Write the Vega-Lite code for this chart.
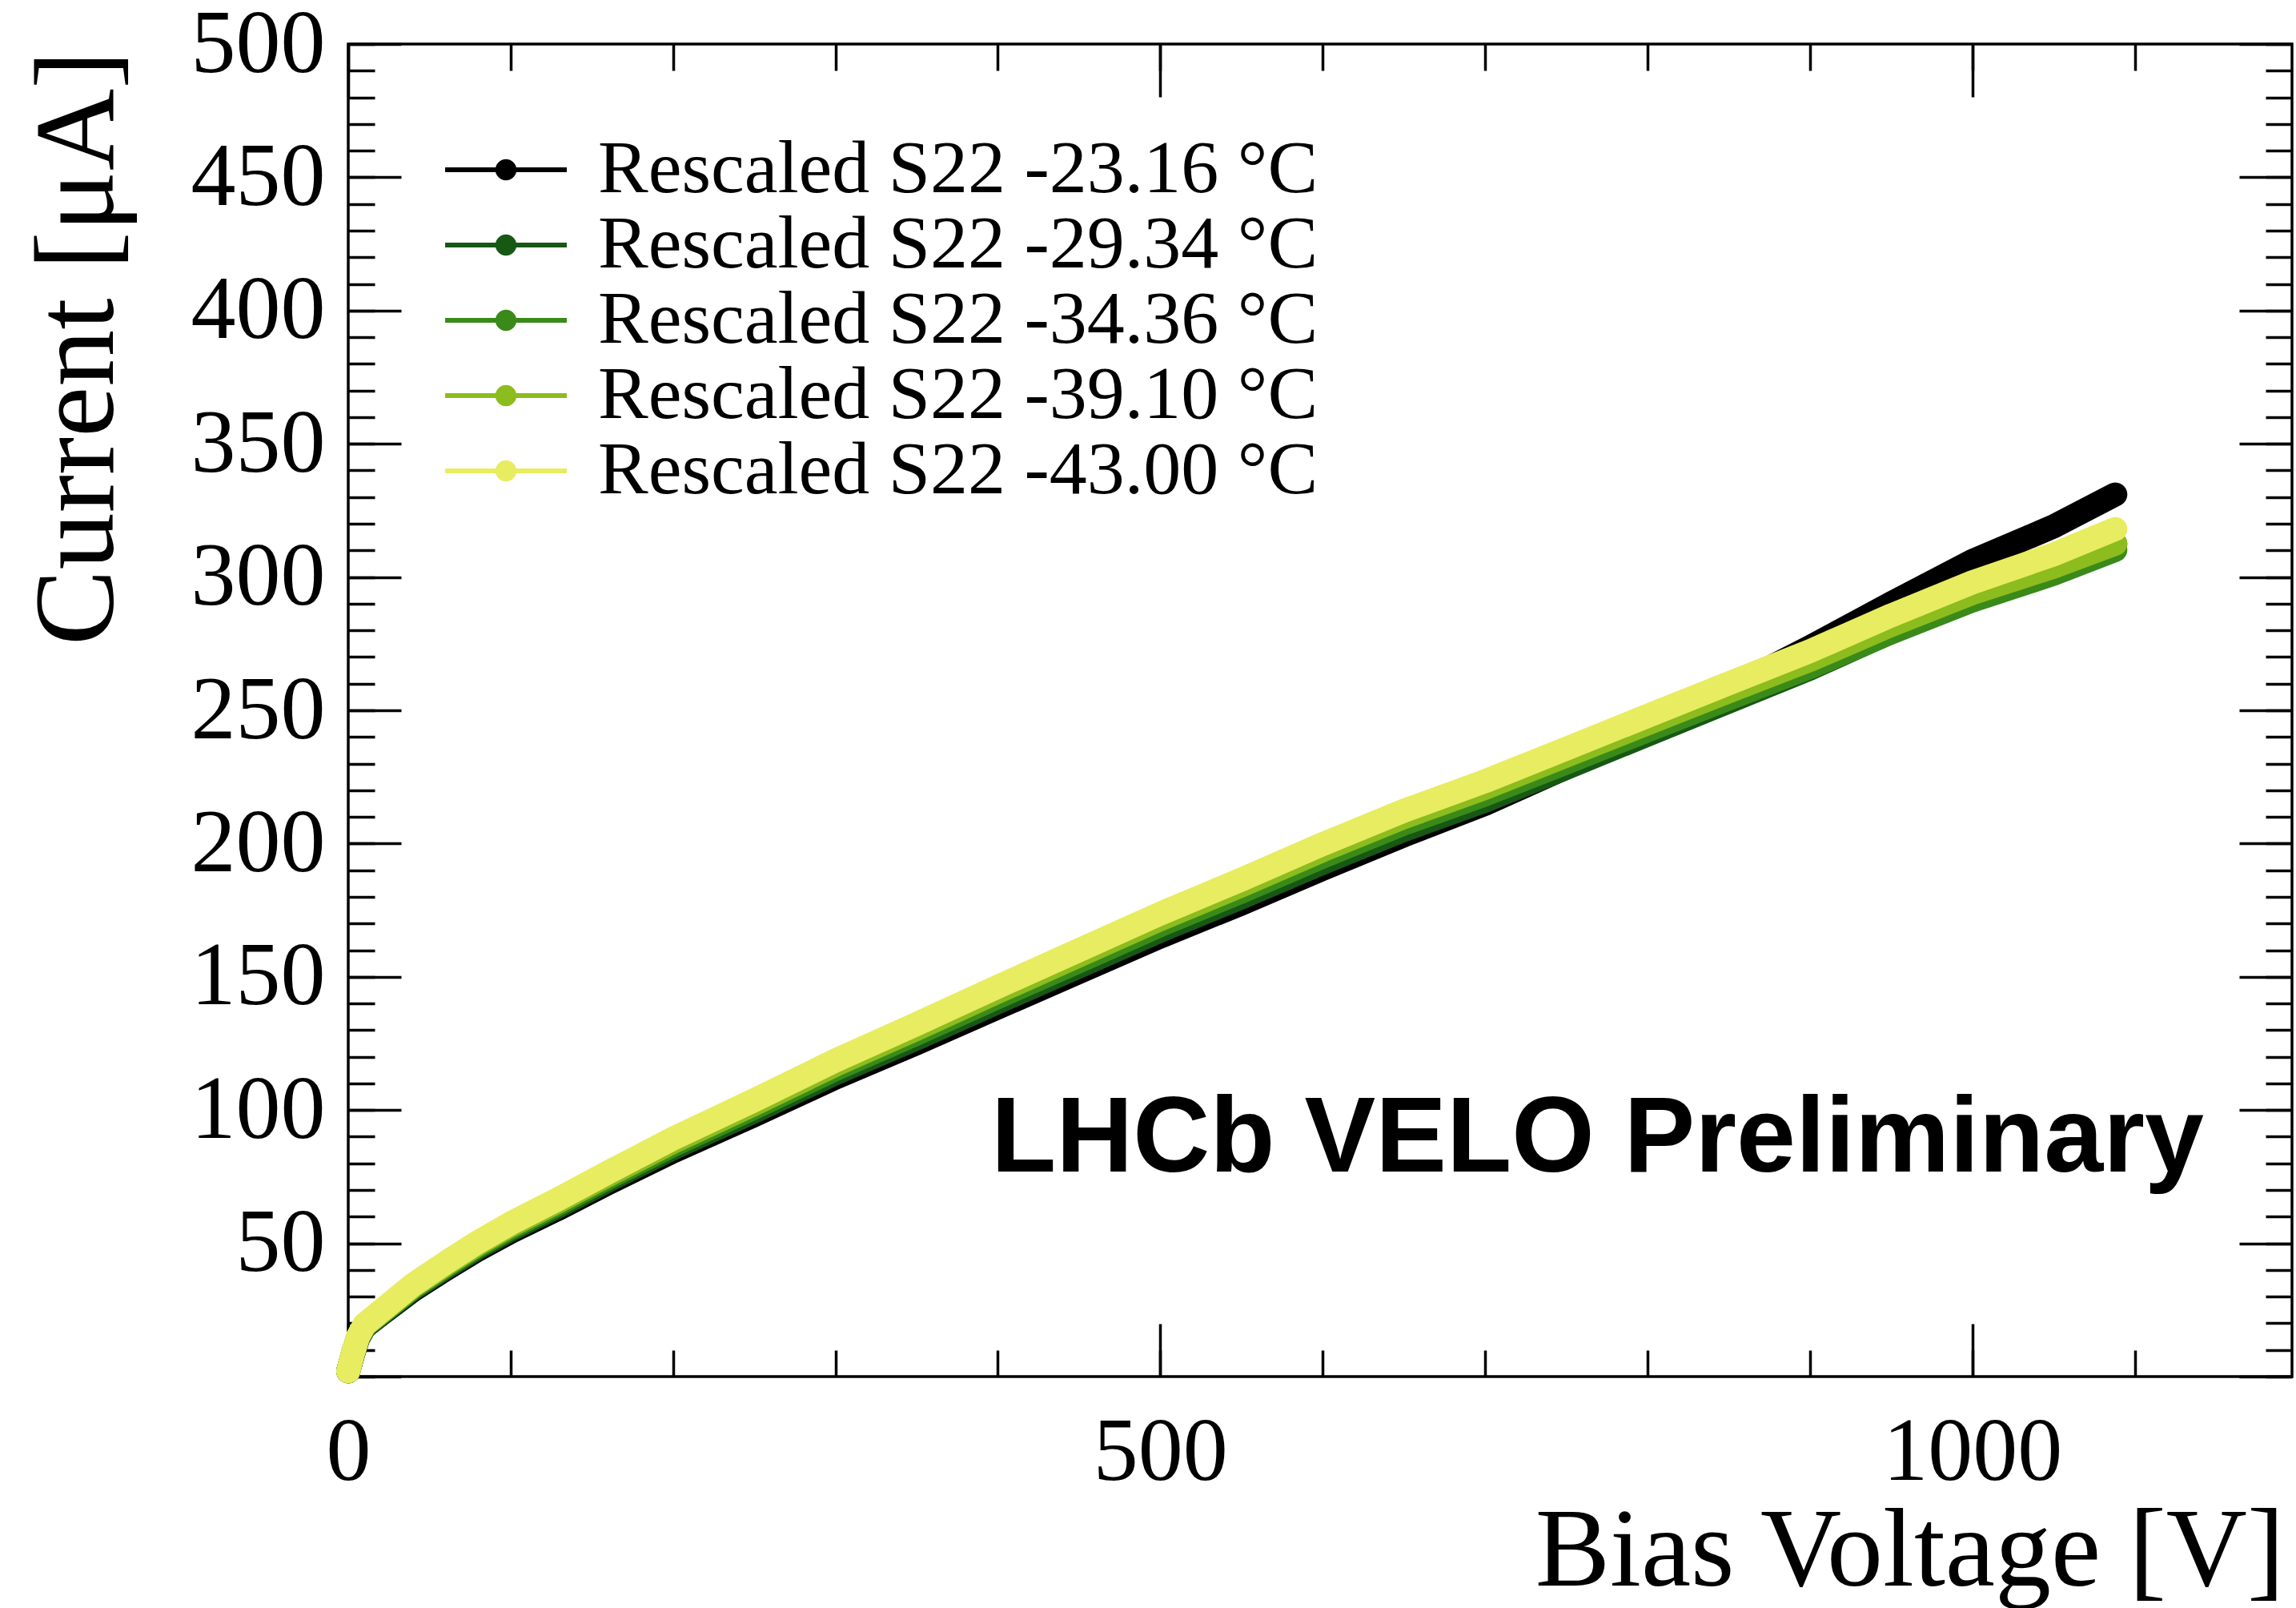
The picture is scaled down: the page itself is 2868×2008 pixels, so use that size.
{
  "$schema": "https://vega.github.io/schema/vega-lite/v6.json",
  "width": 2428,
  "height": 1664,
  "autosize": {"type": "none"},
  "padding": {"left": 435, "top": 55, "right": 5, "bottom": 289},
  "background": "white",
  "config": {
    "view": {"stroke": "black", "strokeWidth": 3.5},
    "axis": {"grid": false, "labelFlush": false, "labelOverlap": false, "labelLimit": 0}
  },
  "data": {"values": [
    {"s":"Rescaled S22 -23.16 °C","V":0,"I":2},{"s":"Rescaled S22 -23.16 °C","V":3,"I":8.5},{"s":"Rescaled S22 -23.16 °C","V":6,"I":14.2},{"s":"Rescaled S22 -23.16 °C","V":10,"I":18.6},{"s":"Rescaled S22 -23.16 °C","V":20,"I":23.3},{"s":"Rescaled S22 -23.16 °C","V":40,"I":32.5},{"s":"Rescaled S22 -23.16 °C","V":60,"I":40.3},{"s":"Rescaled S22 -23.16 °C","V":80,"I":47.7},{"s":"Rescaled S22 -23.16 °C","V":100,"I":54.3},{"s":"Rescaled S22 -23.16 °C","V":130,"I":63.2},{"s":"Rescaled S22 -23.16 °C","V":160,"I":72.6},{"s":"Rescaled S22 -23.16 °C","V":200,"I":84.5},{"s":"Rescaled S22 -23.16 °C","V":250,"I":98.1},{"s":"Rescaled S22 -23.16 °C","V":300,"I":112.2},{"s":"Rescaled S22 -23.16 °C","V":350,"I":125.1},{"s":"Rescaled S22 -23.16 °C","V":400,"I":138.5},{"s":"Rescaled S22 -23.16 °C","V":450,"I":151.8},{"s":"Rescaled S22 -23.16 °C","V":500,"I":165.1},{"s":"Rescaled S22 -23.16 °C","V":550,"I":177.5},{"s":"Rescaled S22 -23.16 °C","V":600,"I":190.5},{"s":"Rescaled S22 -23.16 °C","V":650,"I":203.1},{"s":"Rescaled S22 -23.16 °C","V":700,"I":214.9},{"s":"Rescaled S22 -23.16 °C","V":750,"I":228.6},{"s":"Rescaled S22 -23.16 °C","V":800,"I":242.9},{"s":"Rescaled S22 -23.16 °C","V":850,"I":258.1},{"s":"Rescaled S22 -23.16 °C","V":900,"I":273.7},{"s":"Rescaled S22 -23.16 °C","V":950,"I":290.1},{"s":"Rescaled S22 -23.16 °C","V":1000,"I":306.0},{"s":"Rescaled S22 -23.16 °C","V":1050,"I":319.0},{"s":"Rescaled S22 -23.16 °C","V":1088,"I":331.0},
    {"s":"Rescaled S22 -29.34 °C","V":0,"I":2},{"s":"Rescaled S22 -29.34 °C","V":3,"I":8.6},{"s":"Rescaled S22 -29.34 °C","V":6,"I":14.4},{"s":"Rescaled S22 -29.34 °C","V":10,"I":18.8},{"s":"Rescaled S22 -29.34 °C","V":20,"I":23.6},{"s":"Rescaled S22 -29.34 °C","V":40,"I":33.0},{"s":"Rescaled S22 -29.34 °C","V":60,"I":40.9},{"s":"Rescaled S22 -29.34 °C","V":80,"I":48.4},{"s":"Rescaled S22 -29.34 °C","V":100,"I":55.1},{"s":"Rescaled S22 -29.34 °C","V":130,"I":64.1},{"s":"Rescaled S22 -29.34 °C","V":160,"I":73.6},{"s":"Rescaled S22 -29.34 °C","V":200,"I":85.7},{"s":"Rescaled S22 -29.34 °C","V":250,"I":99.5},{"s":"Rescaled S22 -29.34 °C","V":300,"I":113.8},{"s":"Rescaled S22 -29.34 °C","V":350,"I":126.9},{"s":"Rescaled S22 -29.34 °C","V":400,"I":140.5},{"s":"Rescaled S22 -29.34 °C","V":450,"I":153.9},{"s":"Rescaled S22 -29.34 °C","V":500,"I":167.3},{"s":"Rescaled S22 -29.34 °C","V":550,"I":179.8},{"s":"Rescaled S22 -29.34 °C","V":600,"I":192.8},{"s":"Rescaled S22 -29.34 °C","V":650,"I":205.1},{"s":"Rescaled S22 -29.34 °C","V":700,"I":216.1},{"s":"Rescaled S22 -29.34 °C","V":750,"I":228.4},{"s":"Rescaled S22 -29.34 °C","V":800,"I":240.9},{"s":"Rescaled S22 -29.34 °C","V":850,"I":253.3},{"s":"Rescaled S22 -29.34 °C","V":900,"I":265.7},{"s":"Rescaled S22 -29.34 °C","V":950,"I":279.4},{"s":"Rescaled S22 -29.34 °C","V":1000,"I":292.0},{"s":"Rescaled S22 -29.34 °C","V":1050,"I":302.7},{"s":"Rescaled S22 -29.34 °C","V":1088,"I":312.4},
    {"s":"Rescaled S22 -34.36 °C","V":0,"I":2},{"s":"Rescaled S22 -34.36 °C","V":3,"I":8.7},{"s":"Rescaled S22 -34.36 °C","V":6,"I":14.6},{"s":"Rescaled S22 -34.36 °C","V":10,"I":19.0},{"s":"Rescaled S22 -34.36 °C","V":20,"I":23.9},{"s":"Rescaled S22 -34.36 °C","V":40,"I":33.5},{"s":"Rescaled S22 -34.36 °C","V":60,"I":41.5},{"s":"Rescaled S22 -34.36 °C","V":80,"I":49.1},{"s":"Rescaled S22 -34.36 °C","V":100,"I":55.9},{"s":"Rescaled S22 -34.36 °C","V":130,"I":65.0},{"s":"Rescaled S22 -34.36 °C","V":160,"I":74.6},{"s":"Rescaled S22 -34.36 °C","V":200,"I":86.9},{"s":"Rescaled S22 -34.36 °C","V":250,"I":100.9},{"s":"Rescaled S22 -34.36 °C","V":300,"I":115.4},{"s":"Rescaled S22 -34.36 °C","V":350,"I":128.7},{"s":"Rescaled S22 -34.36 °C","V":400,"I":142.4},{"s":"Rescaled S22 -34.36 °C","V":450,"I":155.9},{"s":"Rescaled S22 -34.36 °C","V":500,"I":169.4},{"s":"Rescaled S22 -34.36 °C","V":550,"I":182.0},{"s":"Rescaled S22 -34.36 °C","V":600,"I":195.1},{"s":"Rescaled S22 -34.36 °C","V":650,"I":207.5},{"s":"Rescaled S22 -34.36 °C","V":700,"I":218.4},{"s":"Rescaled S22 -34.36 °C","V":750,"I":230.4},{"s":"Rescaled S22 -34.36 °C","V":800,"I":242.5},{"s":"Rescaled S22 -34.36 °C","V":850,"I":254.4},{"s":"Rescaled S22 -34.36 °C","V":900,"I":266.2},{"s":"Rescaled S22 -34.36 °C","V":950,"I":279.2},{"s":"Rescaled S22 -34.36 °C","V":1000,"I":291.2},{"s":"Rescaled S22 -34.36 °C","V":1050,"I":301.2},{"s":"Rescaled S22 -34.36 °C","V":1088,"I":310.2},
    {"s":"Rescaled S22 -39.10 °C","V":0,"I":2},{"s":"Rescaled S22 -39.10 °C","V":3,"I":9},{"s":"Rescaled S22 -39.10 °C","V":6,"I":14.8},{"s":"Rescaled S22 -39.10 °C","V":10,"I":19.3},{"s":"Rescaled S22 -39.10 °C","V":20,"I":24.2},{"s":"Rescaled S22 -39.10 °C","V":40,"I":34.0},{"s":"Rescaled S22 -39.10 °C","V":60,"I":42.1},{"s":"Rescaled S22 -39.10 °C","V":80,"I":49.8},{"s":"Rescaled S22 -39.10 °C","V":100,"I":56.7},{"s":"Rescaled S22 -39.10 °C","V":130,"I":65.9},{"s":"Rescaled S22 -39.10 °C","V":160,"I":75.6},{"s":"Rescaled S22 -39.10 °C","V":200,"I":88.1},{"s":"Rescaled S22 -39.10 °C","V":250,"I":102.3},{"s":"Rescaled S22 -39.10 °C","V":300,"I":117.0},{"s":"Rescaled S22 -39.10 °C","V":350,"I":130.5},{"s":"Rescaled S22 -39.10 °C","V":400,"I":144.4},{"s":"Rescaled S22 -39.10 °C","V":450,"I":158.0},{"s":"Rescaled S22 -39.10 °C","V":500,"I":171.6},{"s":"Rescaled S22 -39.10 °C","V":550,"I":184.3},{"s":"Rescaled S22 -39.10 °C","V":600,"I":197.5},{"s":"Rescaled S22 -39.10 °C","V":650,"I":209.9},{"s":"Rescaled S22 -39.10 °C","V":700,"I":220.9},{"s":"Rescaled S22 -39.10 °C","V":750,"I":233.0},{"s":"Rescaled S22 -39.10 °C","V":800,"I":245.1},{"s":"Rescaled S22 -39.10 °C","V":850,"I":257.1},{"s":"Rescaled S22 -39.10 °C","V":900,"I":268.9},{"s":"Rescaled S22 -39.10 °C","V":950,"I":282.0},{"s":"Rescaled S22 -39.10 °C","V":1000,"I":294.0},{"s":"Rescaled S22 -39.10 °C","V":1050,"I":303.9},{"s":"Rescaled S22 -39.10 °C","V":1088,"I":312.5},
    {"s":"Rescaled S22 -43.00 °C","V":0,"I":2},{"s":"Rescaled S22 -43.00 °C","V":3,"I":9},{"s":"Rescaled S22 -43.00 °C","V":6,"I":15},{"s":"Rescaled S22 -43.00 °C","V":10,"I":19.5},{"s":"Rescaled S22 -43.00 °C","V":20,"I":24.5},{"s":"Rescaled S22 -43.00 °C","V":40,"I":34.5},{"s":"Rescaled S22 -43.00 °C","V":60,"I":42.7},{"s":"Rescaled S22 -43.00 °C","V":80,"I":50.5},{"s":"Rescaled S22 -43.00 °C","V":100,"I":57.5},{"s":"Rescaled S22 -43.00 °C","V":130,"I":66.8},{"s":"Rescaled S22 -43.00 °C","V":160,"I":76.6},{"s":"Rescaled S22 -43.00 °C","V":200,"I":89.3},{"s":"Rescaled S22 -43.00 °C","V":250,"I":103.7},{"s":"Rescaled S22 -43.00 °C","V":300,"I":118.6},{"s":"Rescaled S22 -43.00 °C","V":350,"I":132.3},{"s":"Rescaled S22 -43.00 °C","V":400,"I":146.3},{"s":"Rescaled S22 -43.00 °C","V":450,"I":160.0},{"s":"Rescaled S22 -43.00 °C","V":500,"I":173.7},{"s":"Rescaled S22 -43.00 °C","V":550,"I":186.5},{"s":"Rescaled S22 -43.00 °C","V":600,"I":199.8},{"s":"Rescaled S22 -43.00 °C","V":650,"I":212.3},{"s":"Rescaled S22 -43.00 °C","V":700,"I":223.4},{"s":"Rescaled S22 -43.00 °C","V":750,"I":235.6},{"s":"Rescaled S22 -43.00 °C","V":800,"I":247.9},{"s":"Rescaled S22 -43.00 °C","V":850,"I":260.1},{"s":"Rescaled S22 -43.00 °C","V":900,"I":272.2},{"s":"Rescaled S22 -43.00 °C","V":950,"I":285.6},{"s":"Rescaled S22 -43.00 °C","V":1000,"I":298.0},{"s":"Rescaled S22 -43.00 °C","V":1050,"I":308.5},{"s":"Rescaled S22 -43.00 °C","V":1088,"I":318.0}
  ]},
  "resolve": {"axis": {"x": "independent", "y": "independent"}},
  "layer": [
    {
      "mark": {"type": "line", "strokeWidth": 30, "strokeCap": "round", "strokeJoin": "round"},
      "encoding": {
        "x": {"field": "V", "type": "quantitative", "scale": {"domain": [0, 1196.8], "nice": false, "zero": false},
          "axis": {"orient": "bottom", "values": [0, 500, 1000], "format": "d", "ticks": false, "domain": false,
            "labelFont": "Liberation Serif", "labelFontSize": 112, "labelColor": "black", "labelBaseline": "alphabetic", "labelPadding": 128, "labelLimit": 0,
            "title": "Bias Voltage [V]", "titleFont": "Liberation Serif", "titleFontSize": 140, "titleFontWeight": "normal", "titleColor": "black",
            "titleAnchor": "end", "titleAlign": "right", "titleBaseline": "alphabetic", "titleX": 2418, "titleY": 260}},
        "y": {"field": "I", "type": "quantitative", "scale": {"domain": [0, 500], "nice": false, "zero": false},
          "axis": {"orient": "left", "values": [50,100,150,200,250,300,350,400,450,500], "format": "d", "ticks": false, "domain": false,
            "labelFont": "Liberation Serif", "labelFontSize": 112, "labelColor": "black", "labelPadding": 29, "labelLimit": 0,
            "title": "Current [μA]", "titleFont": "Liberation Serif", "titleFontSize": 142, "titleFontWeight": "normal", "titleColor": "black",
            "titleAnchor": "end", "titleAngle": 270, "titleAlign": "right", "titleBaseline": "alphabetic", "titleX": -295, "titleY": 8}},
        "color": {"field": "s", "type": "nominal",
          "scale": {"domain": ["Rescaled S22 -23.16 °C", "Rescaled S22 -29.34 °C", "Rescaled S22 -34.36 °C", "Rescaled S22 -39.10 °C", "Rescaled S22 -43.00 °C"],
                    "range": ["#000000", "#165814", "#3a8a1a", "#8cbc1e", "#e8ec60"]},
          "legend": {"orient": "none", "legendX": 86, "legendY": 110, "title": null, "padding": 0,
            "symbolType": "M-6.33,0L6.33,0M-0.85,0A0.85,0.85,0,1,0,0.85,0A0.85,0.85,0,1,0,-0.85,0Z",
            "symbolSize": 576, "symbolOffset": 64, "symbolStrokeWidth": 6,
            "labelOffset": 68, "labelFont": "Liberation Serif", "labelFontSize": 94, "labelColor": "black", "labelLimit": 0,
            "rowPadding": 0,
            "encode": {"symbols": {"update": {"fill": {"scale": "color", "field": "value"}, "stroke": {"scale": "color", "field": "value"}, "strokeWidth": {"value": 6}, "opacity": {"value": 1}}}}}}
      }
    },
    {
      "mark": {"type": "point", "opacity": 0},
      "encoding": {
        "x": {"field": "V", "type": "quantitative", "axis": {"orient": "bottom", "values": [0, 500, 1000], "labels": false, "domain": false, "title": null, "tickSize": -66, "tickWidth": 3.5, "tickColor": "black"}},
        "y": {"field": "I", "type": "quantitative", "axis": {"orient": "left", "values": [0,50,100,150,200,250,300,350,400,450,500], "labels": false, "domain": false, "title": null, "tickSize": -66, "tickWidth": 3.5, "tickColor": "black"}}
      }
    },
    {
      "mark": {"type": "point", "opacity": 0},
      "encoding": {
        "x": {"field": "V", "type": "quantitative", "axis": {"orient": "bottom", "values": [0,100,200,300,400,500,600,700,800,900,1000,1100], "labels": false, "domain": false, "title": null, "tickSize": -33, "tickWidth": 3.5, "tickColor": "black"}},
        "y": {"field": "I", "type": "quantitative", "axis": {"orient": "left", "values": [0,10,20,30,40,50,60,70,80,90,100,110,120,130,140,150,160,170,180,190,200,210,220,230,240,250,260,270,280,290,300,310,320,330,340,350,360,370,380,390,400,410,420,430,440,450,460,470,480,490,500], "labels": false, "domain": false, "title": null, "tickSize": -33, "tickWidth": 3.5, "tickColor": "black"}}
      }
    },
    {
      "mark": {"type": "point", "opacity": 0},
      "encoding": {
        "x": {"field": "V", "type": "quantitative", "axis": {"orient": "top", "values": [0, 500, 1000], "labels": false, "domain": false, "title": null, "tickSize": -66, "tickWidth": 3.5, "tickColor": "black"}},
        "y": {"field": "I", "type": "quantitative", "axis": {"orient": "right", "values": [0,50,100,150,200,250,300,350,400,450,500], "labels": false, "domain": false, "title": null, "tickSize": -66, "tickWidth": 3.5, "tickColor": "black"}}
      }
    },
    {
      "mark": {"type": "point", "opacity": 0},
      "encoding": {
        "x": {"field": "V", "type": "quantitative", "axis": {"orient": "top", "values": [0,100,200,300,400,500,600,700,800,900,1000,1100], "labels": false, "domain": false, "title": null, "tickSize": -33, "tickWidth": 3.5, "tickColor": "black"}},
        "y": {"field": "I", "type": "quantitative", "axis": {"orient": "right", "values": [0,10,20,30,40,50,60,70,80,90,100,110,120,130,140,150,160,170,180,190,200,210,220,230,240,250,260,270,280,290,300,310,320,330,340,350,360,370,380,390,400,410,420,430,440,450,460,470,480,490,500], "labels": false, "domain": false, "title": null, "tickSize": -33, "tickWidth": 3.5, "tickColor": "black"}}
      }
    },
    {
      "data": {"values": [{}]},
      "mark": {"type": "text", "align": "right", "baseline": "alphabetic", "font": "Liberation Sans", "fontWeight": "bold", "fontSize": 133, "color": "black"},
      "encoding": {
        "x": {"datum": 1142.6, "type": "quantitative", "axis": null},
        "y": {"datum": 77, "type": "quantitative", "axis": null},
        "text": {"value": "LHCb VELO Preliminary"}
      }
    }
  ]
}
